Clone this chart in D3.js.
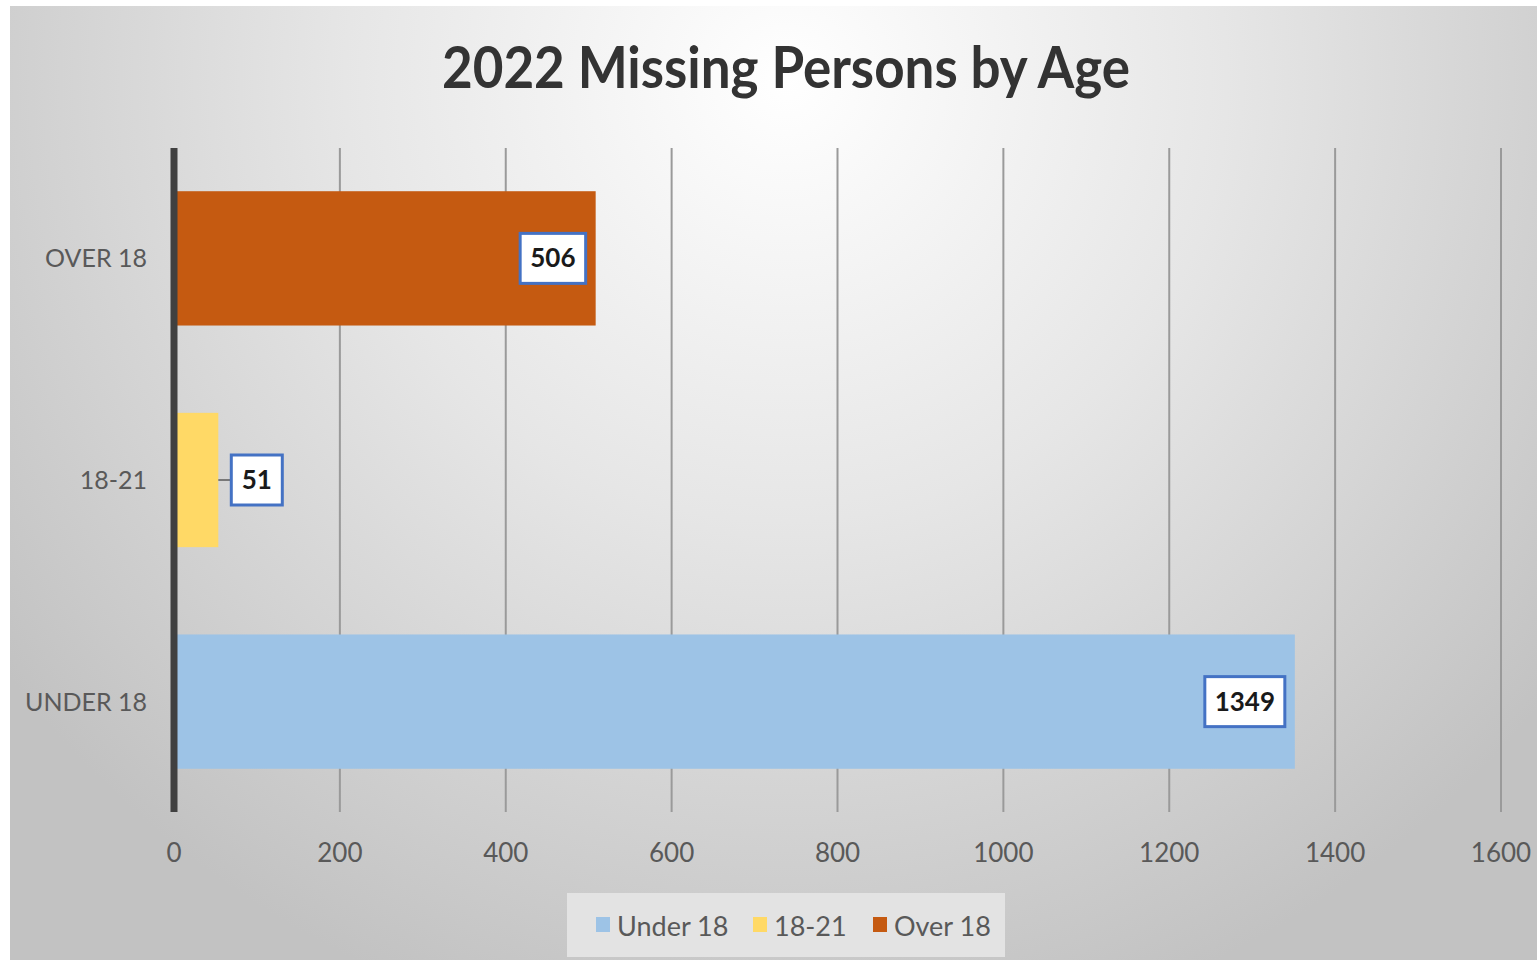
<!DOCTYPE html>
<html>
<head>
<meta charset="utf-8">
<script src="https://cdn.jsdelivr.net/npm/d3@7"></script>
<style>
  body { margin: 0; background: #fff; }
  svg { display: block; }
  text { font-family: Lato, "Open Sans", sans-serif; }
</style>
</head>
<body>
<svg id="chart"></svg>
<script>
// chart data
const categories = ["OVER 18", "18-21", "UNDER 18"];
const values = [506, 51, 1349];
const seriesNames = ["Under 18", "18-21", "Over 18"];
const seriesColors = ["#9DC3E6", "#FFD966", "#C55A11"];
const tickValues = [0, 200, 400, 600, 800, 1000, 1200, 1400, 1600];
const barColors = ["#C55A11", "#FFD966", "#9DC3E6"];

const W = 1537, H = 960;
const svg = d3.select("#chart").attr("width", W).attr("height", H);

// background gradient
const defs = svg.append("defs");
const grad = defs.append("radialGradient")
    .attr("id", "bg")
    .attr("gradientUnits", "userSpaceOnUse")
    .attr("cx", 786).attr("cy", 80).attr("r", 980);
grad.append("stop").attr("offset", "0%").attr("stop-color", "#ffffff");
grad.append("stop").attr("offset", "45%").attr("stop-color", "#e6e6e6");
grad.append("stop").attr("offset", "100%").attr("stop-color", "#c2c2c2");

svg.append("rect")
    .attr("x", 10).attr("y", 6)
    .attr("width", W - 10).attr("height", H - 6)
    .attr("fill", "url(#bg)");

const x = d3.scaleLinear().domain([0, 1600]).range([174, 1501]);
const y = d3.scaleBand().domain(categories).range([148, 812])
    .paddingInner(0.394).paddingOuter(0.195);

// title
svg.append("text")
    .attr("x", 786).attr("y", 88)
    .attr("text-anchor", "middle")
    .attr("font-size", 58)
    .attr("font-weight", "bold")
    .attr("fill", "#333")
    .attr("textLength", 688)
    .attr("lengthAdjust", "spacingAndGlyphs")
    .text("2022 Missing Persons by Age");

// vertical gridlines
svg.append("g").selectAll("line")
    .data(tickValues.slice(1))
    .enter().append("line")
    .attr("x1", d => x(d)).attr("x2", d => x(d))
    .attr("y1", 148).attr("y2", 812)
    .attr("stroke", "#9a9a9a")
    .attr("stroke-width", 2);

// x tick labels
svg.append("g").selectAll("text")
    .data(tickValues)
    .enter().append("text")
    .attr("x", d => x(d)).attr("y", 862)
    .attr("text-anchor", "middle")
    .attr("font-size", 26)
    .attr("fill", "#595959")
    .text(d => d);

// category labels
svg.append("g").selectAll("text")
    .data(categories)
    .enter().append("text")
    .attr("x", 147)
    .attr("y", d => y(d) + y.bandwidth() / 2 + 9)
    .attr("text-anchor", "end")
    .attr("font-size", 25)
    .attr("fill", "#595959")
    .text(d => d);

// bars
svg.append("g").selectAll("rect")
    .data(categories)
    .enter().append("rect")
    .attr("x", x(0) + 3)
    .attr("y", d => y(d))
    .attr("width", (d, i) => x(values[i]) - x(0) - 1)
    .attr("height", y.bandwidth())
    .attr("fill", (d, i) => barColors[i]);

// y axis line
svg.append("line")
    .attr("x1", x(0)).attr("x2", x(0))
    .attr("y1", 148).attr("y2", 812)
    .attr("stroke", "#404040")
    .attr("stroke-width", 7);

// data labels
const labels = svg.append("g");
categories.forEach((c, i) => {
    const v = values[i];
    const cy = y(c) + y.bandwidth() / 2;
    const txt = String(v);
    const bw = txt.length * 14.5 + 22, bh = 50;
    const outside = x(v) - x(0) < bw + 30;
    let bx;
    if (outside) {
        bx = x(v) + 15;
        labels.append("line")
            .attr("x1", x(v) + 2).attr("x2", bx)
            .attr("y1", cy).attr("y2", cy)
            .attr("stroke", "#595959").attr("stroke-width", 1.5);
    } else {
        bx = x(v) - 8 - bw;
    }
    labels.append("rect")
        .attr("x", bx).attr("y", cy - bh / 2)
        .attr("width", bw).attr("height", bh)
        .attr("fill", "#fff")
        .attr("stroke", "#4472C4")
        .attr("stroke-width", 3);
    labels.append("text")
        .attr("x", bx + bw / 2).attr("y", cy + 9)
        .attr("text-anchor", "middle")
        .attr("font-size", 26)
        .attr("font-weight", "bold")
        .attr("fill", "#1a1a1a")
        .text(txt);
});

// legend
const legend = svg.append("g");
legend.append("rect")
    .attr("x", 567).attr("y", 893)
    .attr("width", 438).attr("height", 64)
    .attr("fill", "#e3e3e3");
const legendX = [596, 753, 873];
seriesNames.forEach((s, i) => {
    legend.append("rect")
        .attr("x", legendX[i]).attr("y", 917)
        .attr("width", 14).attr("height", 15)
        .attr("fill", seriesColors[i]);
    legend.append("text")
        .attr("x", legendX[i] + 21).attr("y", 936)
        .attr("font-size", 27)
        .attr("fill", "#595959")
        .text(s);
});
</script>
</body>
</html>
